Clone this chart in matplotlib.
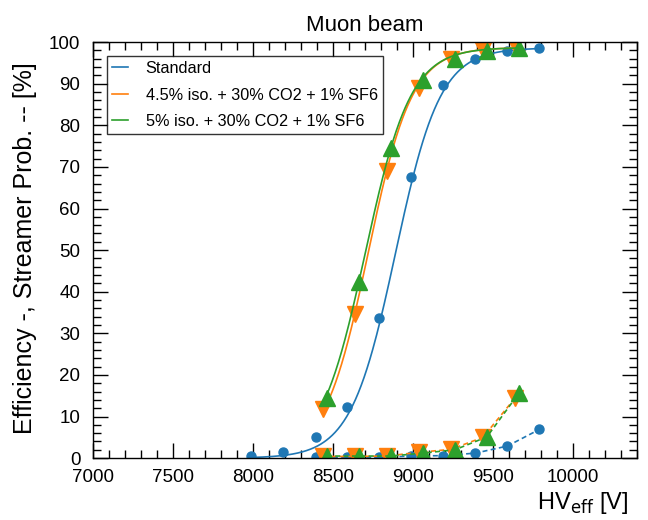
import numpy as np
import matplotlib.pyplot as plt
from matplotlib.lines import Line2D
from matplotlib.ticker import MultipleLocator

plt.rcParams['font.family'] = ['Liberation Sans', 'DejaVu Sans']

BLUE = '#1f77b4'
ORANGE = '#ff7f0e'
GREEN = '#2ca02c'

# Standard mixture
std_hv = [7990, 8190, 8395, 8590, 8790, 8990, 9190, 9390, 9590, 9790]
std_eff = [0.5, 1.4, 5.0, 12.3, 33.8, 67.5, 89.7, 95.9, 97.9, 98.7]
std_hv_str = [8395, 8590, 8790, 8990, 9190, 9390, 9590, 9790]
std_str = [0.2, 0.2, 0.2, 0.5, 0.6, 1.2, 2.9, 6.9]

# 4.5% iso. + 30% CO2 + 1% SF6
iso45_hv = [8437, 8637, 8837, 9037, 9237, 9437, 9637]
iso45_eff = [11.8, 34.7, 68.9, 89.0, 95.9, 98.0, 99.3]
iso45_str = [0.4, 0.4, 0.5, 1.4, 2.1, 5.0, 14.4]

# 5% iso. + 30% CO2 + 1% SF6
iso5_hv = [8462, 8662, 8862, 9062, 9262, 9462, 9662]
iso5_eff = [14.4, 42.3, 74.5, 90.9, 95.9, 97.8, 98.6]
iso5_str = [0.5, 0.5, 0.5, 1.2, 2.0, 5.1, 15.6]

# sigmoid fit parameters (Emax, lambda, HV50)
std_fit = (98.6, 0.00715, 8891)
iso45_fit = (98.7, 0.0073, 8720)
iso5_fit = (98.7, 0.00707, 8702)

labels = ["Standard", "4.5% iso. + 30% CO2 + 1% SF6", "5% iso. + 30% CO2 + 1% SF6"]


def sigmoid(x, p):
    emax, lam, hv50 = p
    return emax / (1 + np.exp(-lam * (x - hv50)))


fig = plt.figure(figsize=(6.48, 5.20), dpi=100)
ax = fig.add_axes([0.1435, 0.119, 0.8395, 0.8])

series = [
    (std_hv, std_eff, std_hv_str, std_str, std_fit, BLUE, 'o', 6.5),
    (iso45_hv, iso45_eff, iso45_hv, iso45_str, iso45_fit, ORANGE, 'v', 12),
    (iso5_hv, iso5_eff, iso5_hv, iso5_str, iso5_fit, GREEN, '^', 12),
]

for hv, eff, hv_s, strm, fit, col, mk, ms in series:
    xf = np.linspace(hv[0], hv[-1], 300)
    ax.plot(xf, sigmoid(xf, fit), color=col, lw=1.2)
    ax.plot(hv, eff, ls='none', marker=mk, ms=ms, color=col, mec=col)
    ax.plot(hv_s, strm, ls='--', lw=1.2, marker=mk, ms=ms, color=col, mec=col,
            dashes=(3, 2))

ax.set_xlim(7000, 10400)
ax.set_ylim(0, 100)
ax.xaxis.set_major_locator(MultipleLocator(500))
ax.xaxis.set_minor_locator(MultipleLocator(100))
ax.yaxis.set_major_locator(MultipleLocator(10))
ax.yaxis.set_minor_locator(MultipleLocator(2))
ax.tick_params(which='both', direction='in', top=True, right=True, width=1.0)
ax.tick_params(which='major', length=11)
ax.tick_params(which='minor', length=5.5)
ax.tick_params(axis='x', which='major', labelsize=13.5, pad=8)
ax.tick_params(axis='y', which='major', labelsize=13.5, pad=9)
for s in ax.spines.values():
    s.set_linewidth(1.0)

ax.set_title("Muon beam", fontsize=16, pad=8)
ax.set_xlabel(r"HV$_{\mathrm{eff}}$ [V]", fontsize=17, loc='right', labelpad=3)
ax.xaxis.label.set_x(0.985)
ax.set_ylabel("Efficiency -, Streamer Prob. -- [%]", fontsize=18, loc='top')
ax.yaxis.set_label_coords(-0.103, 0.952)

handles = [Line2D([], [], color=c, lw=1.2) for c in (BLUE, ORANGE, GREEN)]
leg = ax.legend(handles, labels, loc='upper left', bbox_to_anchor=(0.0265, 0.966),
                fontsize=11.7, frameon=True, fancybox=False, edgecolor='black',
                handlelength=0.95, handletextpad=1.1, borderpad=0.3, labelspacing=0.7,
                borderaxespad=0)
leg.get_frame().set_linewidth(1.0)

fig.savefig("out.png", dpi=100)
